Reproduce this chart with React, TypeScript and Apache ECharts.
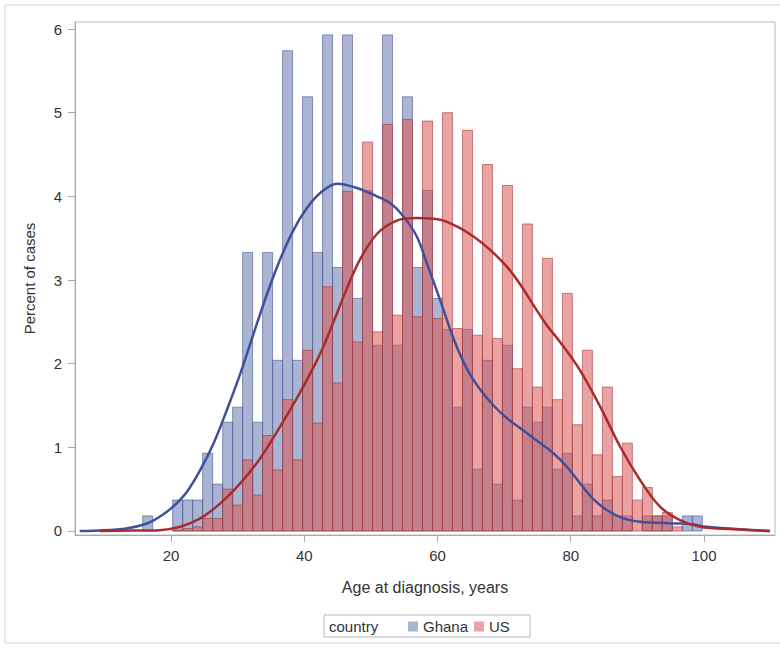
import React, { useEffect, useRef } from "react";
import * as echarts from "echarts";

// Histogram bins (bin width 1.5 years), bin centres
const binCenters = [
  16.5, 18, 19.5, 21, 22.5, 24, 25.5, 27, 28.5, 30, 31.5, 33, 34.5, 36, 37.5, 39,
  40.5, 42, 43.5, 45, 46.5, 48, 49.5, 51, 52.5, 54, 55.5, 57, 58.5, 60, 61.5, 63,
  64.5, 66, 67.5, 69, 70.5, 72, 73.5, 75, 76.5, 78, 79.5, 81, 82.5, 84, 85.5, 87,
  88.5, 90, 91.5, 93, 94.5, 96, 97.5, 99,
];
// Percent of cases per bin
const ghanaPct = [
  0.18, 0, 0, 0.37, 0.37, 0.37, 0.93, 0.56, 1.3, 1.48, 3.33, 1.3, 3.33, 2.04, 5.74, 2.04,
  5.19, 3.33, 5.93, 3.15, 5.93, 2.78, 4.07, 2.22, 5.93, 2.22, 5.19, 3.15, 4.07, 2.78, 2.41, 1.48,
  2.41, 0.74, 2.04, 0.56, 2.22, 0.37, 1.48, 1.3, 1.48, 0.74, 0.93, 0.18, 0.56, 0.18, 0.37, 0.18,
  0.18, 0, 0.18, 0.18, 0.18, 0, 0.18, 0.18,
];
const usPct = [
  0, 0, 0, 0.01, 0.03, 0.05, 0.15, 0.15, 0.5, 0.31, 0.85, 0.43, 1.14, 0.73, 1.57, 0.85,
  2.16, 1.29, 2.92, 1.77, 4.06, 2.26, 4.65, 2.38, 4.86, 2.58, 4.92, 2.56, 4.9, 2.54, 5.0, 2.42,
  4.79, 2.34, 4.38, 2.3, 4.13, 1.94, 3.67, 1.72, 3.26, 1.57, 2.84, 1.27, 2.16, 0.91, 1.72, 0.65,
  1.05, 0.37, 0.52, 0.18, 0.22, 0.05, 0, 0,
];

// Kernel density curves
const ghanaCurveX = [
  6.3, 10, 13.3, 16.4, 18.3, 20.3, 22.4, 24.4, 26.4, 28.4, 30.4, 32.4, 34.4, 36.4, 38.4,
  40.4, 42.4, 44.9, 47.9, 50.9, 52.9, 54.9, 56.9, 58.4, 60.4, 62.4, 64.4, 66.4, 68.4, 70.4,
  72.4, 74.4, 77.4, 79.4, 81.4, 83.4, 85.4, 87.9, 90.4, 95.4, 97.9, 100.4, 105.4, 109.9,
];
const ghanaCurveY = [
  0, 0.01, 0.03, 0.09, 0.17, 0.29, 0.47, 0.73, 1.05, 1.45, 1.88, 2.36, 2.83, 3.25, 3.6,
  3.86, 4.04, 4.15, 4.1, 4.0, 3.92, 3.76, 3.52, 3.2, 2.76, 2.3, 1.94, 1.69, 1.5, 1.35,
  1.23, 1.11, 0.93, 0.77, 0.57, 0.38, 0.25, 0.15, 0.11, 0.09, 0.085, 0.05, 0.02, 0,
];
const usCurveX = [
  9.3, 14, 18.3, 21.4, 24.4, 27.4, 30.4, 33.4, 36.4, 39.4, 42.4, 44.4, 46.4, 48.4, 50.9, 53.9,
  56.9, 60.4, 62.9, 65.4, 67.9, 70.4, 72.4, 74.4, 76.4, 78.4, 81.4, 84.4, 87.4, 90.4, 93.4,
  96.4, 99.4, 104.4, 109.9,
];
const usCurveY = [
  0, 0.005, 0.01, 0.05, 0.15, 0.33, 0.57, 0.87, 1.25, 1.66, 2.12, 2.5, 2.9, 3.25, 3.55, 3.71,
  3.74, 3.72, 3.64, 3.52, 3.36, 3.16, 2.95, 2.7, 2.46, 2.26, 1.92, 1.49, 1.01, 0.61, 0.29,
  0.13, 0.05, 0.02, 0,
];

const xTicks = [20, 40, 60, 80, 100];
const yTicks = [0, 1, 2, 3, 4, 5, 6];
const seriesNames = ["Ghana", "US"];

const BIN_WIDTH = 1.5;
const FONT = "'Liberation Sans', Arial, sans-serif";
const GHANA_FILL = "rgba(111,126,179,0.58)";
const GHANA_EDGE = "rgba(68,86,148,0.6)";
const US_FILL = "rgba(218,86,86,0.55)";
const US_EDGE = "rgba(162,58,58,0.6)";
const GHANA_LINE = "#41509a";
const US_LINE = "#a82c2c";

function barRenderer(fill: string, edge: string) {
  return (params: any, api: any) => {
    const c = api.value(0);
    const v = api.value(1);
    if (!v) return { type: "group", children: [] };
    const p1 = api.coord([c - BIN_WIDTH / 2, v]);
    const p2 = api.coord([c + BIN_WIDTH / 2, 0]);
    return {
      type: "rect",
      shape: { x: p1[0], y: p1[1], width: p2[0] - p1[0], height: p2[1] - p1[1] },
      style: { fill, stroke: edge, lineWidth: 1 },
    };
  };
}

export default function App() {
  const ref = useRef<HTMLDivElement>(null);
  useEffect(() => {
    if (!ref.current) return;
    const chart = echarts.init(ref.current, null, { renderer: "svg" });
    const ghanaBars = binCenters.map((c, i) => [c, ghanaPct[i]]);
    const usBars = binCenters.map((c, i) => [c, usPct[i]]);
    const ghanaCurve = ghanaCurveX.map((x, i) => [x, ghanaCurveY[i]]);
    const usCurve = usCurveX.map((x, i) => [x, usCurveY[i]]);
    chart.setOption({
      animation: false,
      backgroundColor: "#ffffff",
      textStyle: { fontFamily: FONT },
      grid: {
        left: 75,
        top: 22,
        width: 700,
        height: 513,
        show: true,
        borderColor: "#b8b8b8",
        borderWidth: 1,
        backgroundColor: "transparent",
      },
      legend: {
        data: seriesNames.map((n) => ({ name: n, icon: "rect" })),
        left: 408,
        top: 619,
        padding: 0,
        itemWidth: 10,
        itemHeight: 10,
        itemGap: 6,
        textStyle: { fontSize: 15, color: "#333", fontFamily: FONT },
        selectedMode: false,
      },
      xAxis: {
        type: "value",
        min: 5.59,
        max: 110.66,
        name: "Age at diagnosis, years",
        nameLocation: "middle",
        nameGap: 44,
        nameTextStyle: { fontSize: 16, color: "#333", fontFamily: FONT },
        axisLine: { onZero: false, lineStyle: { color: "#a8a8a8" } },
        axisTick: { show: true, length: 7, customValues: xTicks, lineStyle: { color: "#a8a8a8" } },
        axisLabel: { customValues: xTicks, fontSize: 15, color: "#333", margin: 13, fontFamily: FONT },
        splitLine: { show: false },
      },
      yAxis: {
        type: "value",
        min: -0.048,
        max: 6.084,
        name: "Percent of cases",
        nameLocation: "middle",
        nameGap: 38,
        nameTextStyle: { fontSize: 15, color: "#333", fontFamily: FONT },
        axisLine: { show: true, lineStyle: { color: "#a8a8a8" } },
        axisTick: { show: true, length: 7, customValues: yTicks, lineStyle: { color: "#a8a8a8" } },
        axisLabel: { customValues: yTicks, fontSize: 15, color: "#333", margin: 13, fontFamily: FONT },
        splitLine: { show: false },
      },
      graphic: [
        {
          type: "rect",
          shape: { x: 5, y: 5, width: 800, height: 638 },
          style: { fill: "none", stroke: "#d6d6d6", lineWidth: 1 },
          silent: true,
          z: -10,
        },
        {
          type: "rect",
          shape: { x: 324, y: 615, width: 206, height: 22 },
          style: { fill: "none", stroke: "#b8b8b8", lineWidth: 1 },
          silent: true,
        },
        {
          type: "text",
          x: 329,
          y: 626,
          style: {
            text: "country",
            fontSize: 15,
            fill: "#333",
            fontFamily: FONT,
            verticalAlign: "middle",
            align: "left",
          },
          silent: true,
        },
      ],
      series: [
        {
          name: "Ghana",
          type: "custom",
          renderItem: barRenderer(GHANA_FILL, GHANA_EDGE),
          itemStyle: { color: GHANA_FILL },
          encode: { x: 0, y: 1 },
          data: ghanaBars,
          z: 2,
        },
        {
          name: "US",
          type: "custom",
          renderItem: barRenderer(US_FILL, US_EDGE),
          itemStyle: { color: US_FILL },
          encode: { x: 0, y: 1 },
          data: usBars,
          z: 3,
        },
        {
          name: "Ghana density",
          type: "line",
          data: ghanaCurve,
          smooth: 0.35,
          showSymbol: false,
          lineStyle: { color: GHANA_LINE, width: 2.5 },
          z: 5,
        },
        {
          name: "US density",
          type: "line",
          data: usCurve,
          smooth: 0.35,
          showSymbol: false,
          lineStyle: { color: US_LINE, width: 2.5 },
          z: 5,
        },
      ],
    });
    return () => chart.dispose();
  }, []);
  return (
    <div
      ref={ref}
      style={{ position: "absolute", left: 0, top: 0, width: 780, height: 650, background: "#fff" }}
    />
  );
}
